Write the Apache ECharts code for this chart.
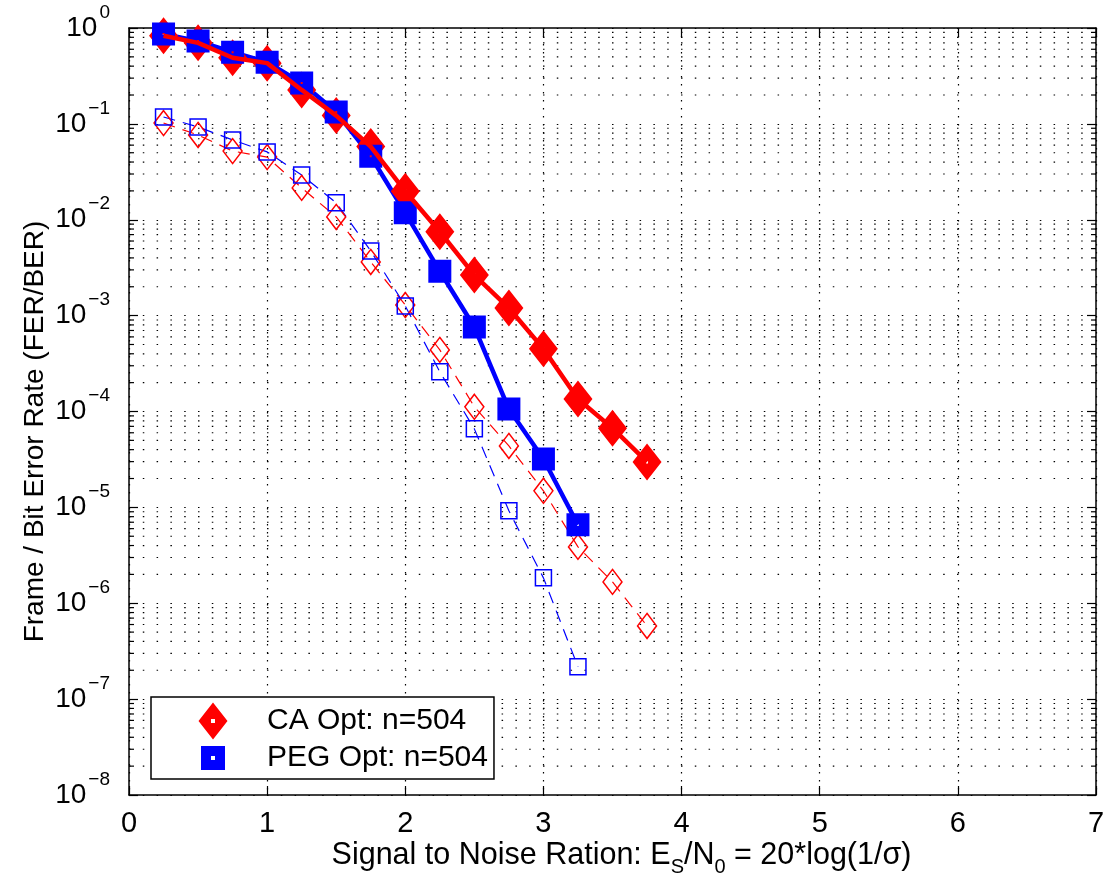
<!DOCTYPE html>
<html><head><meta charset="utf-8">
<script src="https://cdn.jsdelivr.net/npm/echarts@6/dist/echarts.min.js"></script>
<style>html,body{margin:0;padding:0;background:#fff}#c{width:1104px;height:883px}</style>
</head><body><div id="c"></div>
<script>
// ---- data ----
const snrCA  = [0.25,0.5,0.75,1.0,1.25,1.5,1.75,2.0,2.25,2.5,2.75,3.0,3.25,3.5,3.75];
const snrPEG = [0.25,0.5,0.75,1.0,1.25,1.5,1.75,2.0,2.25,2.5,2.75,3.0,3.25];
const caFER  = [0.83,0.70,0.49,0.43,0.226,0.122,0.058,0.0198,0.0075,0.00265,0.0012,4.5e-4,1.35e-4,6.7e-5,2.98e-5];
const pegFER = [0.866,0.73,0.56,0.44,0.267,0.133,0.046,0.0118,0.0029,7.6e-4,1.06e-4,3.2e-5,6.6e-6];
const caBER  = [0.102,0.0766,0.052,0.045,0.0215,0.0107,0.00363,0.00129,4.39e-4,1.12e-4,4.37e-5,1.49e-5,3.87e-6,1.67e-6,5.8e-7];
const pegBER = [0.118,0.093,0.068,0.051,0.0293,0.015,0.00473,0.00126,2.59e-4,6.59e-5,9.2e-6,1.84e-6,2.17e-7];
const xTickLabels = ['0','1','2','3','4','5','6','7'];
const yExponents = [0,-1,-2,-3,-4,-5,-6,-7,-8];
const minorMultipliers = [2,3,4,5,6,7,8,9];
const legendNames = ['CA Opt: n=504','PEG Opt: n=504'];

const FONT = "'Liberation Sans', Arial, Helvetica, sans-serif";
const RED = '#ff0000', BLUE = '#0000ff';

// minor log grid positions (axis decoration)
const minorVals = [];
yExponents.slice(1).forEach(e => minorMultipliers.forEach(m => minorVals.push([0, m * Math.pow(10, e)])));

const pairs = (xs, ys) => xs.map((x, i) => [x, ys[i]]);

const diamondFilled = 'path://M0,-18.5L14.5,0L0,18.5L-14.5,0Z M-1,-1.5L-1,1.5L1,1.5L1,-1.5Z';
const squareFilled  = 'path://M-11.5,-11.5L11.5,-11.5L11.5,11.5L-11.5,11.5Z M-1,-1L-1,1L1,1L1,-1Z';
const diamondIcon = 'path://M0,-18.5L14.5,0L0,18.5L-14.5,0Z M-2,-2L-2,2L2,2L2,-2Z';
const squareIcon  = 'path://M-14.5,-18.5L-14.5,-18.5M14.5,18.5L14.5,18.5M-12,-12L12,-12L12,12L-12,12Z M-2,-2L-2,2L2,2L2,-2Z';

function yLabel(v) {
  const e = Math.round(Math.log10(v));
  const ex = yExponents[yExponents.indexOf(e)];
  return '{b|10}{s|' + (ex === 0 ? '0' : '\u2212' + (-ex)) + '}';
}

const chart = echarts.init(document.getElementById('c'), null, {renderer: 'canvas'});
const axisLine = {show: true, onZero: false, lineStyle: {color: '#000', width: 1.5}};
const dotted = {show: true, lineStyle: {color: '#000', width: 1.2, type: [1.5, 12.3]}};

chart.setOption({
  animation: false,
  backgroundColor: '#fff',
  grid: {left: 129, right: 8, top: 28, bottom: 88, containLabel: false, outerBoundsMode: 'none', show: false},
  xAxis: [{
    type: 'value', min: 0, max: 7, interval: 1, position: 'bottom',
    axisLine: axisLine,
    axisTick: {show: true, inside: true, length: 9, lineStyle: {color: '#000', width: 1.2}},
    axisLabel: {show: true, margin: 14, fontSize: 29, fontFamily: FONT, color: '#000',
      formatter: v => xTickLabels[Math.round(v)]},
    splitLine: {show: true, lineStyle: {color: '#000', width: 1.2, type: [1.5, 6.5]}},
    name: 'Signal to Noise Ration: E{sub|S}/N{sub|0} = 20*log(1/\u03c3)',
    nameLocation: 'middle', nameGap: 46, nameMoveOverlap: false,
    nameTextStyle: {fontSize: 30.5, fontFamily: FONT, color: '#000', lineHeight: 30, verticalAlign: 'top',
      padding: [0, 0, 0, 18],
      rich: {sub: {fontSize: 20, fontFamily: FONT, color: '#000', lineHeight: 20, verticalAlign: 'top', padding: [16, 0, 0, 0]}}}
  }, {
    type: 'value', min: 0, max: 7, interval: 1, position: 'top',
    axisLine: axisLine,
    axisTick: {show: true, inside: true, length: 9, lineStyle: {color: '#000', width: 1.2}},
    axisLabel: {show: false}, splitLine: {show: false}
  }],
  yAxis: [{
    type: 'log', logBase: 10, min: 1e-8, max: 1, interval: 1, position: 'left',
    axisLine: axisLine,
    axisTick: {show: true, inside: true, length: 9, lineStyle: {color: '#000', width: 1.2}},
    axisLabel: {show: true, margin: 19, fontFamily: FONT, color: '#000', formatter: yLabel,
      rich: {
        b: {fontSize: 28, fontFamily: FONT, color: '#000', lineHeight: 28, verticalAlign: 'bottom'},
        s: {fontSize: 19, fontFamily: FONT, color: '#000', lineHeight: 19, verticalAlign: 'bottom', padding: [0, 0, 20, 2]}
      }},
    splitLine: dotted,
    name: 'Frame / Bit Error Rate (FER/BER)', nameLocation: 'middle', nameGap: 80, nameRotate: 90,
    nameMoveOverlap: false,
    nameTextStyle: {fontSize: 28, fontFamily: FONT, color: '#000', padding: [0, 40, 0, 0]}
  }, {
    type: 'log', logBase: 10, min: 1e-8, max: 1, interval: 1, position: 'right',
    axisLine: axisLine,
    axisTick: {show: true, inside: true, length: 9, lineStyle: {color: '#000', width: 1.2}},
    axisLabel: {show: false}, splitLine: {show: false}
  }],
  legend: {
    show: true, orient: 'vertical', left: 151, top: 697,
    padding: [5.5, 6, 2.5, 47.5], itemGap: 0, itemWidth: 29, itemHeight: 37,
    borderColor: '#000', borderWidth: 1.5, backgroundColor: '#fff', z: 10,
    selectedMode: false,
    textStyle: {fontSize: 30, fontFamily: FONT, color: '#000', padding: [0, 0, 0, 34.5]},
    data: [
      {name: legendNames[0], icon: diamondIcon, itemStyle: {color: RED, borderWidth: 0}},
      {name: legendNames[1], icon: squareIcon, itemStyle: {color: BLUE, borderWidth: 0}}
    ]
  },
  series: [
    {
      type: 'custom', name: 'minorGrid', silent: true, z: 1, clip: false,
      xAxisIndex: 0, yAxisIndex: 0, encode: {x: 0, y: 1},
      data: minorVals,
      renderItem: function (params, api) {
        const v = api.value(1);
        const a = api.coord([0, v]), b = api.coord([7, v]);
        return {type: 'group', children: [
          {type: 'line', shape: {x1: a[0], y1: a[1], x2: b[0], y2: b[1]}, style: {stroke: '#000', lineWidth: 1.2, lineDash: [1.5, 12.3]}},
          {type: 'line', shape: {x1: a[0], y1: a[1], x2: a[0] + 5, y2: a[1]}, style: {stroke: '#000', lineWidth: 1.2}},
          {type: 'line', shape: {x1: b[0] - 5, y1: b[1], x2: b[0], y2: b[1]}, style: {stroke: '#000', lineWidth: 1.2}}
        ]};
      }
    },
    {
      type: 'line', name: 'CA BER', z: 2, data: pairs(snrCA, caBER),
      symbol: 'diamond', symbolSize: [19, 25], showAllSymbol: true,
      itemStyle: {color: 'rgba(0,0,0,0)', borderColor: RED, borderWidth: 1.5},
      lineStyle: {color: RED, width: 1.2, type: [12, 8]}
    },
    {
      type: 'line', name: 'PEG BER', z: 2, data: pairs(snrPEG, pegBER),
      symbol: 'rect', symbolSize: 16, showAllSymbol: true,
      itemStyle: {color: 'rgba(0,0,0,0)', borderColor: BLUE, borderWidth: 1.5},
      lineStyle: {color: BLUE, width: 1.2, type: [12, 8]}
    },
    {
      type: 'line', name: 'PEG FER line', z: 3, data: pairs(snrPEG, pegFER),
      showSymbol: false, lineStyle: {color: BLUE, width: 4.5}
    },
    {
      type: 'scatter', name: legendNames[0], z: 4, data: pairs(snrCA, caFER),
      symbol: diamondFilled, symbolSize: [29, 37], itemStyle: {color: RED, opacity: 1}
    },
    {
      type: 'scatter', name: legendNames[1], z: 5, data: pairs(snrPEG, pegFER),
      symbol: squareFilled, symbolSize: [23, 23], itemStyle: {color: BLUE, opacity: 1}
    },
    {
      type: 'line', name: 'CA FER line', z: 6, data: pairs(snrCA, caFER),
      showSymbol: false, lineStyle: {color: RED, width: 4.5}
    }
  ]
});
</script>
</body></html>
